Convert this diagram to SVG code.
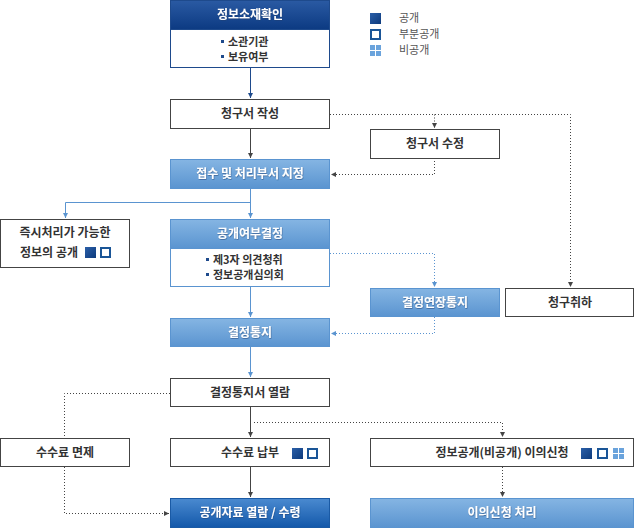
<svg xmlns="http://www.w3.org/2000/svg" width="635" height="528" viewBox="0 0 635 528">
<defs>
<linearGradient id="gLight" x1="0" y1="0" x2="0" y2="1">
<stop offset="0" stop-color="#85b5e3"/>
<stop offset="1" stop-color="#5a94d0"/>
</linearGradient>
<linearGradient id="gDark" x1="0" y1="0" x2="0" y2="1">
<stop offset="0" stop-color="#2a5aa3"/>
<stop offset="1" stop-color="#0c3a82"/>
</linearGradient>
<linearGradient id="gMid" x1="0" y1="0" x2="0" y2="1">
<stop offset="0" stop-color="#4a8ad0"/>
<stop offset="1" stop-color="#1358aa"/>
</linearGradient>
<linearGradient id="gIcon" x1="0" y1="0" x2="1" y2="1">
<stop offset="0" stop-color="#2b5fa8"/>
<stop offset="1" stop-color="#0d3a7c"/>
</linearGradient>
<filter id="ts" x="-10%" y="-30%" width="120%" height="160%">
<feDropShadow dx="0.5" dy="0.8" stdDeviation="0.5" flood-color="#1a3f70" flood-opacity="0.6"/>
</filter>
<marker id="aGray" viewBox="0 0 6 6" markerWidth="5" markerHeight="5" refX="6" refY="3" orient="auto" markerUnits="userSpaceOnUse">
<path d="M0,0 L6,3 L0,6 z" fill="#444"/>
</marker>
<marker id="aBlue" viewBox="0 0 6 6" markerWidth="5" markerHeight="5" refX="6" refY="3" orient="auto" markerUnits="userSpaceOnUse">
<path d="M0,0 L6,3 L0,6 z" fill="#5a94d0"/>
</marker>
<marker id="aNavy" viewBox="0 0 6 6" markerWidth="5" markerHeight="5" refX="6" refY="3" orient="auto" markerUnits="userSpaceOnUse">
<path d="M0,0 L6,3 L0,6 z" fill="#1e4a8c"/>
</marker>
<g id="iFull"><rect x="0" y="0" width="11" height="11" fill="url(#gIcon)"/></g>
<g id="iPart"><rect x="1" y="1" width="9" height="9" fill="#fff" stroke="#1a5597" stroke-width="2"/></g>
<g id="iNone" fill="#6aa3dc"><rect x="0" y="0" width="5" height="5"/><rect x="6" y="0" width="5" height="5"/><rect x="0" y="6" width="5" height="5"/><rect x="6" y="6" width="5" height="5"/></g>
</defs>
<style>
text{font-family:"Noto Sans CJK KR","Noto Sans",sans-serif;font-size:12px;font-weight:bold;}
.t{fill:#333;text-anchor:middle;}
.w{fill:#fff;text-anchor:middle;filter:url(#ts);}
.l{fill:#555;font-size:11px;font-weight:normal;}
.b{fill:#333;font-size:11px;}
.box{fill:#fff;stroke:#444;stroke-width:1;}
.lb{fill:url(#gLight);stroke:#5a94d0;stroke-width:1;}
.s{fill:none;stroke:#444;stroke-width:1;}
.sn{fill:none;stroke:#1e4a8c;stroke-width:1;}
.sb{fill:none;stroke:#5a94d0;stroke-width:1;}
.d{fill:none;stroke:#444;stroke-width:1;stroke-dasharray:1 2;}
.db{fill:none;stroke:#5a94d0;stroke-width:1;stroke-dasharray:1 2;}
</style>
<rect width="635" height="528" fill="#fff"/>

<g id="legend">
<use href="#iFull" x="370" y="13"/>
<text class="l" x="399" y="22">공개</text>
<use href="#iPart" x="370" y="29"/>
<text class="l" x="399" y="38">부분공개</text>
<use href="#iNone" x="370" y="45"/>
<text class="l" x="399" y="54">비공개</text>
</g>

<g id="connectors">
<path class="sn" d="M250.5,68 V98" marker-end="url(#aNavy)"/>
<path class="s" d="M250.5,128 V158" marker-end="url(#aGray)"/>
<path class="d" d="M330,114.5 H570.5 V287" marker-end="url(#aGray)"/>
<path class="d" d="M434.5,114.5 V128" marker-end="url(#aGray)"/>
<path class="d" d="M434.5,158 V174.5 H331" marker-end="url(#aGray)"/>
<path class="sb" d="M250.5,188 V218" marker-end="url(#aBlue)"/>
<path class="sb" d="M250.5,202.5 H65.5 V218" marker-end="url(#aBlue)"/>
<path class="db" d="M330,253.5 H434.5 V287" marker-end="url(#aBlue)"/>
<path class="sb" d="M250.5,287 V317" marker-end="url(#aBlue)"/>
<path class="db" d="M434.5,317 V333.5 H331" marker-end="url(#aBlue)"/>
<path class="sb" d="M250.5,347 V377" marker-end="url(#aBlue)"/>
<path class="s" d="M250.5,407 V437" marker-end="url(#aGray)"/>
<path class="d" d="M254,422.5 H502.5 V437" marker-end="url(#aGray)"/>
<path class="d" d="M170,393.5 H64.5 V438"/>
<path class="d" d="M64.5,467 V513.5 H169" marker-end="url(#aGray)"/>
<path class="s" d="M250.5,467 V497" marker-end="url(#aGray)"/>
<path class="d" d="M502.5,467 V497" marker-end="url(#aGray)"/>
</g>

<g id="n-info-check">
<rect x="170.5" y="0.5" width="159" height="67" fill="#fff" stroke="#1e4a8c"/>
<rect x="170.5" y="0.5" width="159" height="29" fill="url(#gDark)" stroke="#1e4a8c"/>
<text class="w" x="250" y="19">정보소재확인</text>
<rect x="221" y="40" width="3" height="3" fill="#1e4a8c"/>
<text class="b" x="228" y="46">소관기관</text>
<rect x="221" y="55" width="3" height="3" fill="#1e4a8c"/>
<text class="b" x="228" y="61">보유여부</text>
</g>

<g id="n-write">
<rect class="box" x="170.5" y="99.5" width="159" height="29"/>
<text class="t" x="250" y="118">청구서 작성</text>
</g>

<g id="n-modify">
<rect class="box" x="370.5" y="129.5" width="129" height="29"/>
<text class="t" x="435" y="148">청구서 수정</text>
</g>

<g id="n-receive">
<rect class="lb" x="170.5" y="159.5" width="159" height="29"/>
<text class="w" x="250" y="178">접수 및 처리부서 지정</text>
</g>

<g id="n-immediate">
<rect class="box" x="0.5" y="219.5" width="129" height="48"/>
<text class="t" x="65" y="237">즉시처리가 가능한</text>
<text class="t" x="49" y="257">정보의 공개</text>
<use href="#iFull" x="85" y="247"/>
<use href="#iPart" x="100" y="247"/>
</g>

<g id="n-decide">
<rect x="170.5" y="219.5" width="159" height="67" fill="#fff" stroke="#5a94d0"/>
<rect class="lb" x="170.5" y="219.5" width="159" height="29"/>
<text class="w" x="250" y="238">공개여부결정</text>
<rect x="206" y="258" width="3" height="3" fill="#1e4a8c"/>
<text class="b" x="213" y="264">제3자 의견청취</text>
<rect x="206" y="273" width="3" height="3" fill="#1e4a8c"/>
<text class="b" x="213" y="279">정보공개심의회</text>
</g>

<g id="n-extend">
<rect class="lb" x="370.5" y="288.5" width="129" height="28"/>
<text class="w" x="435" y="307">결정연장통지</text>
</g>

<g id="n-withdraw">
<rect class="box" x="505.5" y="288.5" width="128" height="28"/>
<text class="t" x="570" y="307">청구취하</text>
</g>

<g id="n-notify">
<rect class="lb" x="170.5" y="318.5" width="159" height="28"/>
<text class="w" x="250" y="337">결정통지</text>
</g>

<g id="n-view-notice">
<rect class="box" x="170.5" y="378.5" width="159" height="28"/>
<text class="t" x="250" y="397">결정통지서 열람</text>
</g>

<g id="n-fee-exempt">
<rect class="box" x="0.5" y="438.5" width="129" height="28"/>
<text class="t" x="65" y="457">수수료 면제</text>
</g>

<g id="n-fee-pay">
<rect class="box" x="170.5" y="438.5" width="159" height="28"/>
<text class="t" x="250" y="457">수수료 납부</text>
<use href="#iFull" x="292" y="448"/>
<use href="#iPart" x="307" y="448"/>
</g>

<g id="n-objection">
<rect class="box" x="370.5" y="438.5" width="263" height="28"/>
<text class="t" x="502" y="457">정보공개(비공개) 이의신청</text>
<use href="#iFull" x="581" y="448"/>
<use href="#iPart" x="597" y="448"/>
<use href="#iNone" x="613" y="448"/>
</g>

<g id="n-receive-data">
<rect x="170.5" y="498.5" width="159" height="29" fill="url(#gMid)" stroke="#1a5aa5"/>
<text class="w" x="250" y="517">공개자료 열람 / 수령</text>
</g>

<g id="n-objection-proc">
<rect class="lb" x="370.5" y="498.5" width="263" height="29"/>
<text class="w" x="502" y="517">이의신청 처리</text>
</g>
</svg>
